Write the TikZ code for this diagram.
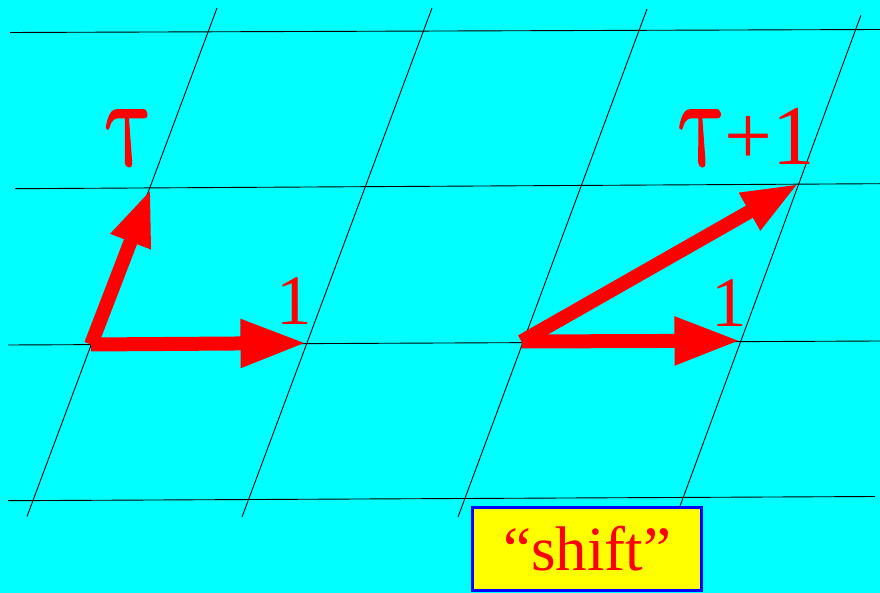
\documentclass[tikz,border=0pt]{standalone}
\usepackage{fontspec}
\setmainfont{Liberation Serif}
\newfontfamily\taufont{latinmodern-math.otf}[FakeSlant=-0.3, FakeBold=1.5]
\usetikzlibrary{arrows.meta}

\definecolor{bgcyan}{RGB}{0,255,255}
\definecolor{boxyellow}{RGB}{255,255,0}
\definecolor{boxblue}{RGB}{0,0,255}
\definecolor{vecred}{RGB}{255,0,0}

\newcommand{\tauglyph}{\scalebox{1.05}[1.5]{\taufont 𝜏}}

\begin{document}
\begin{tikzpicture}[
    x=1pt, y=-1pt,
    lattice/.style={line width=0.9pt, black},
    vec/.style={vecred, line width=14pt, -{Triangle[length=57pt, width=39pt]}},
    hvec/.style={vecred, line width=14pt, -{Triangle[length=66pt, width=45pt]}},
    lbl/.style={text=vecred, inner sep=0pt, anchor=base},
    big/.style={font=\fontsize{85}{90}\selectfont},
    num/.style={font=\fontsize{71}{76}\selectfont},
    shiftbox/.style={draw=boxblue, line width=3pt, fill=boxyellow, text=vecred, inner sep=0pt,
        minimum width=229pt, minimum height=83pt, font=\fontsize{63}{70}\selectfont},
]
% Background (fixes the page size too)
\fill[bgcyan] (0,0) rectangle (880,593);
\useasboundingbox (0,0) rectangle (880,593);

% Lattice: rows, then the slanted columns
\draw[lattice] (10,32.5) -- (880,29.5);
\draw[lattice] (15,188.7) -- (880,183.7);
\draw[lattice] (8,345) -- (880,341);
\draw[lattice] (8,500.7) -- (875,496.5);
\draw[lattice] (27,516.5) -- (217,8);
\draw[lattice] (242,517) -- (432,8);
\draw[lattice] (458,517) -- (647,9);
\draw[lattice] (676,517) -- (861,15);

% Lattice points used by the vectors
\coordinate (o1) at (91,344.5);
\coordinate (t1) at (151,188.5);
\coordinate (e1) at (306.5,343);
\coordinate (o2) at (521.5,341.5);
\coordinate (e2) at (740.5,340.7);
\coordinate (t2) at (799,183.5);

% Periods before and after the shift
\draw[vec] (o1) -- (t1);
\draw[hvec] (o1) -- (e1);
\draw[vec] (o2) -- (t2);
\draw[hvec] (o2) -- (e2);

% Labels
\node[lbl, big] (tau) at (131.5,165) {\tauglyph};
\node[lbl, num] (one) at (294.3,324) {1};
\node[lbl, big, anchor=base east] (taup) at (815,165) {\tauglyph+1};
\node[lbl, num] (onep) at (729.5,326.7) {1};

\node[shiftbox] (shift) at (587,549) {“shift”};
\end{tikzpicture}
\end{document}
